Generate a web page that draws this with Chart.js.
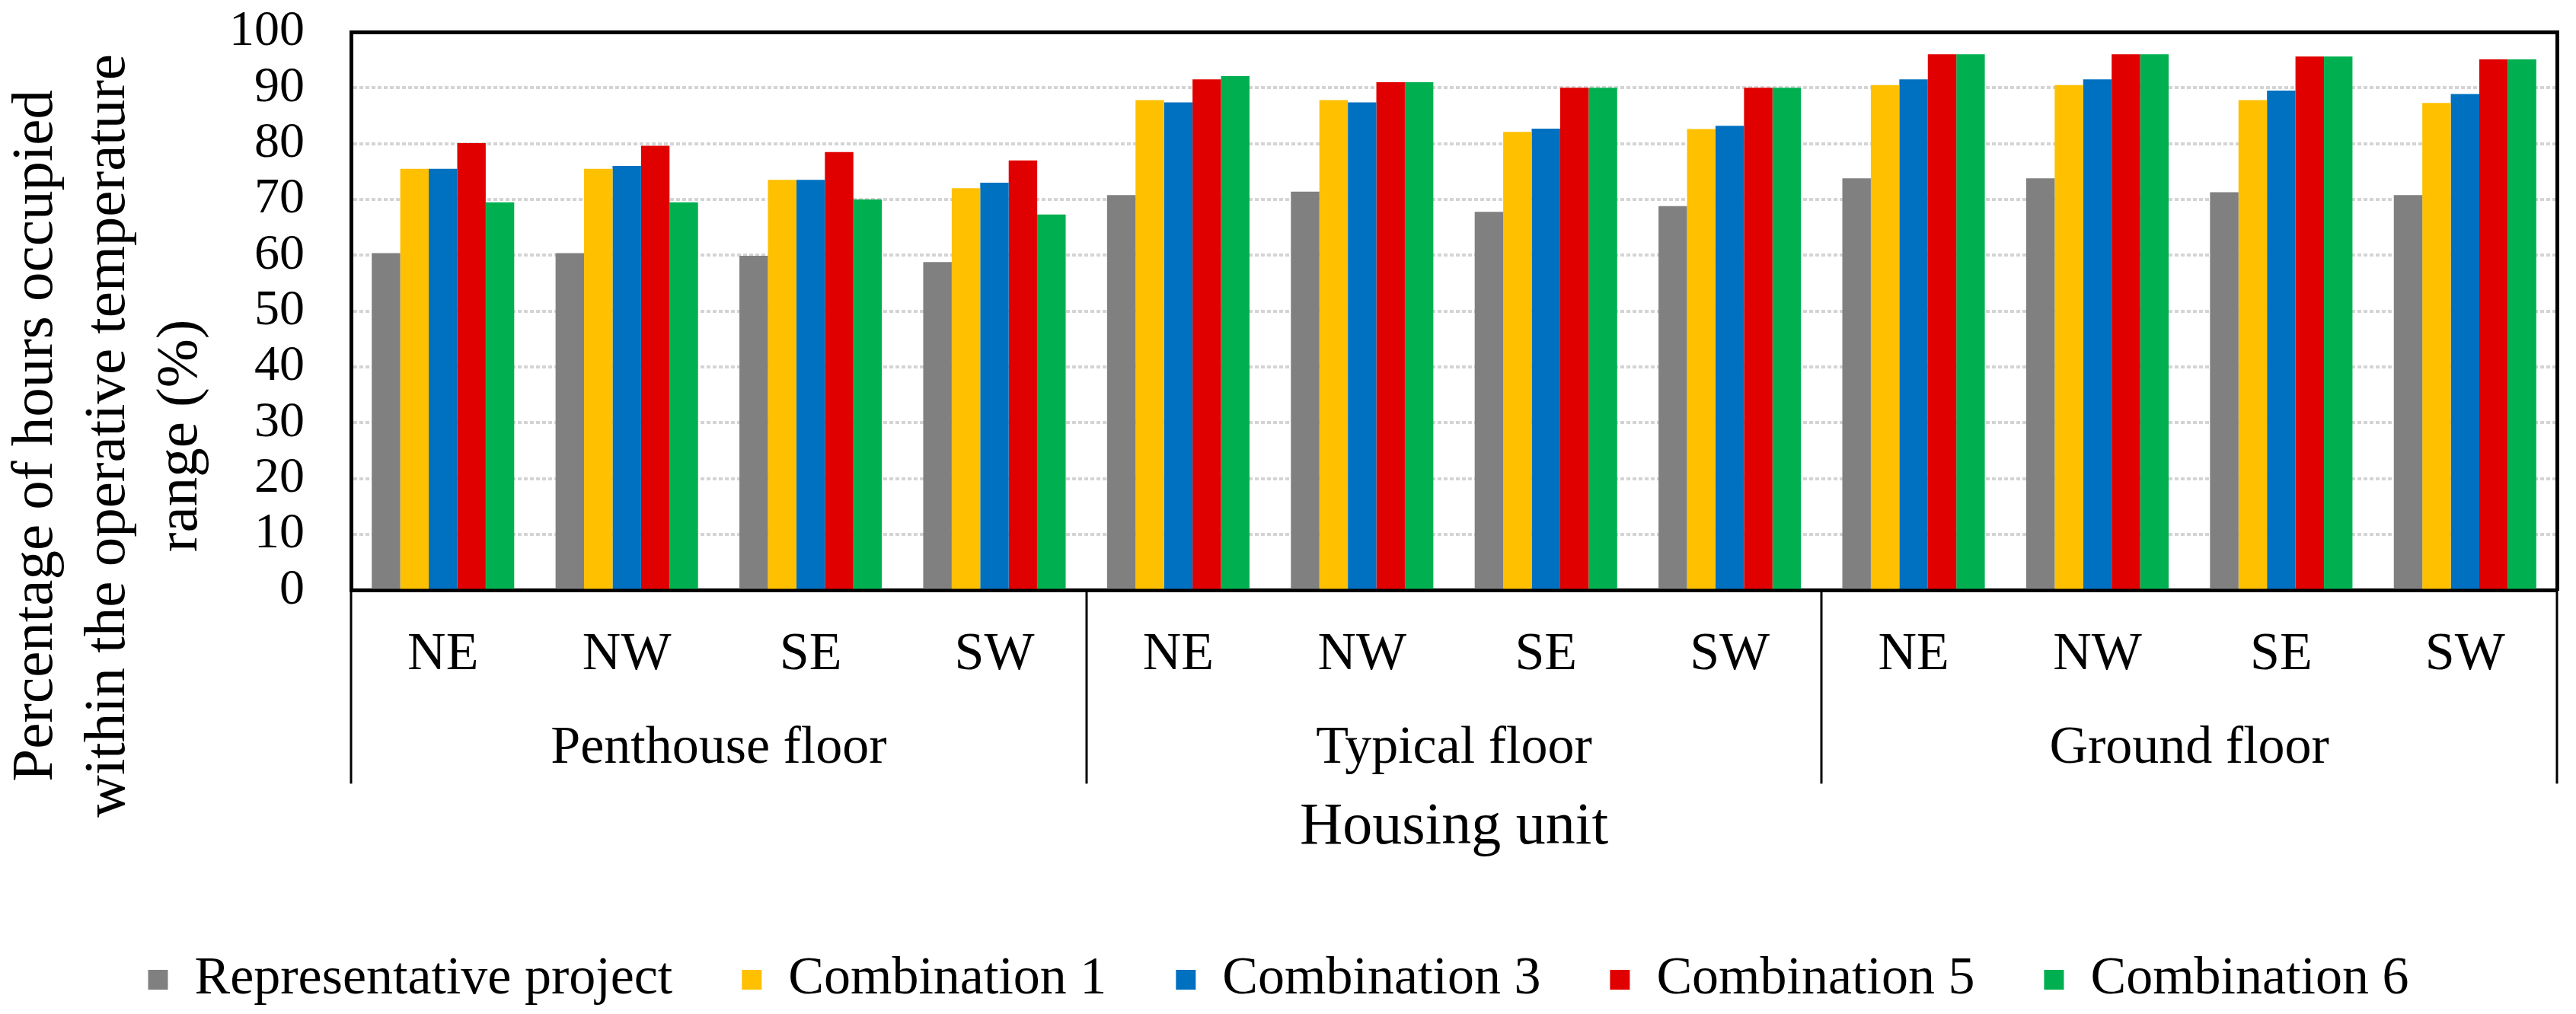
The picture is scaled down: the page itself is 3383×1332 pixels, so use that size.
<!DOCTYPE html>
<html>
<head>
<meta charset="utf-8">
<script src="https://cdn.jsdelivr.net/npm/chart.js@4.4.1/dist/chart.umd.min.js"></script>
<style>
  body { margin: 0; background: #fff; }
  canvas { display: block; }
</style>
</head>
<body>
<canvas id="myChart" width="3383" height="1332"></canvas>
<script>
'use strict';

// housing units (lower axis row) and floors (upper axis row)
const units = ['NE', 'NW', 'SE', 'SW', 'NE', 'NW', 'SE', 'SW', 'NE', 'NW', 'SE', 'SW'];
const floors = ['Penthouse floor', 'Typical floor', 'Ground floor'];

// % of occupied hours inside the operative temperature range
const representative = [60.4, 60.4, 59.9, 58.8, 70.8, 71.4, 67.8, 68.8, 73.8, 73.8, 71.3, 70.8];
const combination1 = [75.5, 75.5, 73.5, 72.0, 87.8, 87.8, 82.1, 82.6, 90.5, 90.5, 87.8, 87.3];
const combination3 = [75.5, 76.0, 73.5, 73.0, 87.4, 87.4, 82.7, 83.2, 91.5, 91.5, 89.5, 88.9];
const combination5 = [80.1, 79.6, 78.5, 77.0, 91.5, 91.0, 90.0, 90.0, 96.0, 96.0, 95.6, 95.1];
const combination6 = [69.5, 69.5, 70.0, 67.3, 92.1, 91.0, 90.0, 90.0, 96.0, 96.0, 95.6, 95.1];

const yTicks = [0, 10, 20, 30, 40, 50, 60, 70, 80, 90, 100];

const font = 'Liberation Serif';
const chartCanvas = document.getElementById('myChart');

// pad the title lines so the block sits lower, like the original
const yTitle = ['Percentage of hours occupied', 'within the operative temperature', 'range (%)']
  .map(s => s + ' '.repeat(17));

// vertical lines between the floor groups, below the plot
const groupLines = {
  id: 'groupLines',
  afterDraw(chart) {
    const x2 = chart.scales.x2;
    const ctx = chart.ctx;
    const top = chart.chartArea.bottom;
    const bottom = chart.scales.x.bottom + 84;
    ctx.save();
    ctx.strokeStyle = '#000';
    ctx.lineWidth = 3;
    for (let k = 0; k <= floors.length; k++) {
      const px = Math.round(x2.getPixelForValue(k - 0.5));
      ctx.beginPath();
      ctx.moveTo(px, top);
      ctx.lineTo(px, bottom);
      ctx.stroke();
    }
    ctx.restore();
  }
};

new Chart(chartCanvas, {
  type: 'bar',
  data: {
    labels: units,
    datasets: [{
      label: 'Representative project',
      data: representative,
      backgroundColor: '#808080'
    }, {
      label: 'Combination 1',
      data: combination1,
      backgroundColor: '#FFC000'
    }, {
      label: 'Combination 3',
      data: combination3,
      backgroundColor: '#0070C0'
    }, {
      label: 'Combination 5',
      data: combination5,
      backgroundColor: '#E00000'
    }, {
      label: 'Combination 6',
      data: combination6,
      backgroundColor: '#00B050'
    }]
  },
  plugins: [groupLines],
  options: {
    responsive: false,
    devicePixelRatio: 1,
    animation: false,
    categoryPercentage: 0.775,
    barPercentage: 1.0,
    layout: {
      padding: { top: 42, right: 25, bottom: 0, left: 0 }
    },
    plugins: {
      tooltip: { enabled: false },
      legend: {
        position: 'bottom',
        labels: {
          font: { family: font, size: 70 },
          color: '#000',
          boxWidth: 26,
          boxHeight: 26,
          padding: 91
        }
      }
    },
    scales: {
      x: {
        type: 'category',
        weight: 1,
        offset: true,
        grid: { display: false, drawTicks: false },
        border: { display: true, color: '#000', width: 5 },
        ticks: {
          font: { family: font, size: 70 },
          color: '#000',
          padding: 43,
          maxRotation: 0,
          autoSkip: false
        }
      },
      x2: {
        type: 'category',
        axis: 'x',
        position: 'bottom',
        weight: 2,
        labels: floors,
        offset: true,
        grid: { display: false, drawTicks: false },
        border: { display: false },
        ticks: {
          font: { family: font, size: 70 },
          color: '#000',
          padding: -4,
          maxRotation: 0
        },
        title: {
          display: true,
          text: 'Housing unit',
          font: { family: font, size: 78 },
          color: '#000',
          padding: { top: 19, bottom: 27 }
        }
      },
      xTop: {
        type: 'linear',
        axis: 'x',
        position: 'top',
        grid: { display: false, drawTicks: false },
        ticks: { display: false },
        border: { display: true, color: '#000', width: 5 }
      },
      y: {
        min: 0,
        max: 100,
        afterBuildTicks: scale => {
          scale.ticks = yTicks.map(v => ({ value: v }));
        },
        grid: {
          color: '#d4d4d4',
          lineWidth: 4,
          drawTicks: true,
          tickLength: 59,
          tickColor: 'rgba(0,0,0,0)'
        },
        border: { display: true, color: '#000', width: 5, dash: [5, 3] },
        ticks: {
          font: { family: font, size: 66 },
          color: '#000',
          padding: 2,
          autoSkip: false
        },
        title: {
          display: true,
          text: yTitle,
          font: { family: font, size: 77, lineHeight: 1.234 },
          color: '#000',
          padding: { top: 0, bottom: 14 }
        }
      },
      yRight: {
        type: 'linear',
        axis: 'y',
        position: 'right',
        grid: { display: false, drawTicks: false },
        ticks: { display: false },
        border: { display: true, color: '#000', width: 5 }
      }
    }
  }
});
</script>
</body>
</html>
